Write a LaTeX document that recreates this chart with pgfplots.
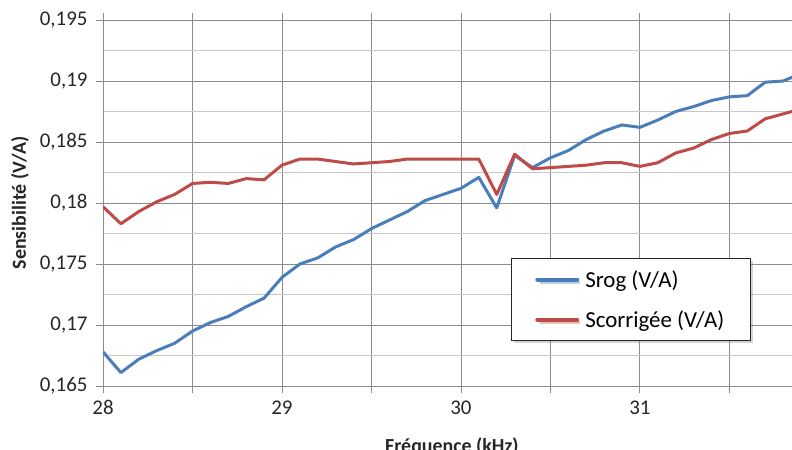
\documentclass[border=0pt]{standalone}
\usepackage{fontspec}
\setmainfont{Carlito}
\usepackage{pgfplots}
\pgfplotsset{compat=1.18}
\usetikzlibrary{shadows}
\definecolor{srog}{HTML}{4A7EBB}
\definecolor{scor}{HTML}{BE4B48}
\definecolor{gridmaj}{HTML}{8C8C8C}
\definecolor{gridmin}{HTML}{C8C8C8}
\begin{document}
\begin{tikzpicture}
\begin{axis}[
  name=ax, at={(0,0)}, anchor=south west,
  scale only axis, width=689bp, height=366bp,
  xmin=28, xmax=31.85, ymin=0.165, ymax=0.195,
  xtick={28,29,30,31}, minor xtick={28.5,29.5,30.5,31.5},
  ytick={0.165,0.17,0.175,0.18,0.185,0.19,0.195},
  minor ytick={0.1675,0.1725,0.1775,0.1825,0.1875,0.1925},
  tick align=outside, major tick length=7bp, minor tick length=7bp,
  minor y tick style={draw=none},
  tick style={gridmaj, line width=0.8bp},
  xmajorgrids, xminorgrids, ymajorgrids, yminorgrids,
  major grid style={gridmaj, line width=0.8bp},
  minor x grid style={gridmaj, line width=0.8bp},
  minor y grid style={gridmin, line width=0.8bp},
  axis line style={gridmaj, line width=0.8bp},
  /pgf/number format/assume math mode=true,
  /pgf/number format/use comma,
  /pgf/number format/fixed,
  /pgf/number format/precision=3,
  xticklabel style={font=\fontsize{21}{23}\selectfont, text=black!85, yshift=-4bp},
  yticklabel style={font=\fontsize{21}{23}\selectfont, text=black!85, xshift=-5bp},
  scaled y ticks=false,
  xlabel={Fréquence (kHz)}, ylabel={Sensibilité (V/A)},
  label style={font=\bfseries\fontsize{20}{22}\selectfont, text=black!85},
  xlabel style={at={(axis description cs:0.5065,-0.165)}, anchor=center},
  ylabel style={at={(axis description cs:-0.1205,0.5)}, anchor=center},
  legend style={at={(0.592,0.3497)}, anchor=north west, draw=black!85, line width=0.8bp,
    fill=white, inner xsep=24bp, inner ysep=10bp, row sep=18bp, column sep=4bp,
    font=\fontsize{23}{25}\selectfont,
    drop shadow={opacity=0.35, shadow xshift=2.5bp, shadow yshift=-2.5bp}},
  legend cell align=left,
  legend image code/.code={\draw[#1, line width=4bp, line cap=round] (0bp,0bp) -- (40bp,0bp);},
]
\addplot[srog, line width=3bp, line join=round] coordinates {
(28.0,0.1678)(28.1,0.1661)(28.2,0.1672)(28.3,0.1679)(28.4,0.1685)(28.5,0.1695)
(28.6,0.1702)(28.7,0.1707)(28.8,0.1715)(28.9,0.1722)(29.0,0.1739)(29.1,0.1750)
(29.2,0.1755)(29.3,0.1764)(29.4,0.1770)(29.5,0.1779)(29.6,0.1786)(29.7,0.1793)
(29.8,0.1802)(29.9,0.1807)(30.0,0.1812)(30.1,0.1821)(30.2,0.1796)(30.3,0.1839)
(30.4,0.1829)(30.5,0.1837)(30.6,0.1843)(30.7,0.1852)(30.8,0.1859)(30.9,0.1864)
(31.0,0.1862)(31.1,0.1868)(31.2,0.1875)(31.3,0.1879)(31.4,0.1884)(31.5,0.1887)
(31.6,0.1888)(31.7,0.1899)(31.8,0.1900)(31.9,0.1906)
};
\addlegendentry{Srog (V/A)}
\addplot[scor, line width=3bp, line join=round] coordinates {
(28.0,0.1797)(28.1,0.1783)(28.2,0.1793)(28.3,0.1801)(28.4,0.1807)(28.5,0.1816)
(28.6,0.1817)(28.7,0.1816)(28.8,0.1820)(28.9,0.1819)(29.0,0.1831)(29.1,0.1836)
(29.2,0.1836)(29.3,0.1834)(29.4,0.1832)(29.5,0.1833)(29.6,0.1834)(29.7,0.1836)
(29.8,0.1836)(29.9,0.1836)(30.0,0.1836)(30.1,0.1836)(30.2,0.1807)(30.3,0.1840)
(30.4,0.1828)(30.5,0.1829)(30.6,0.1830)(30.7,0.1831)(30.8,0.1833)(30.9,0.1833)
(31.0,0.1830)(31.1,0.1833)(31.2,0.1841)(31.3,0.1845)(31.4,0.1852)(31.5,0.1857)
(31.6,0.1859)(31.7,0.1869)(31.8,0.1873)(31.9,0.1877)
};
\addlegendentry{Scorrigée (V/A)}
\end{axis}
\pgfresetboundingbox
\path[use as bounding box] ([shift={(-103bp,-64bp)}]ax.south west) rectangle ([shift={(0bp,20bp)}]ax.north east);
\end{tikzpicture}
\end{document}
